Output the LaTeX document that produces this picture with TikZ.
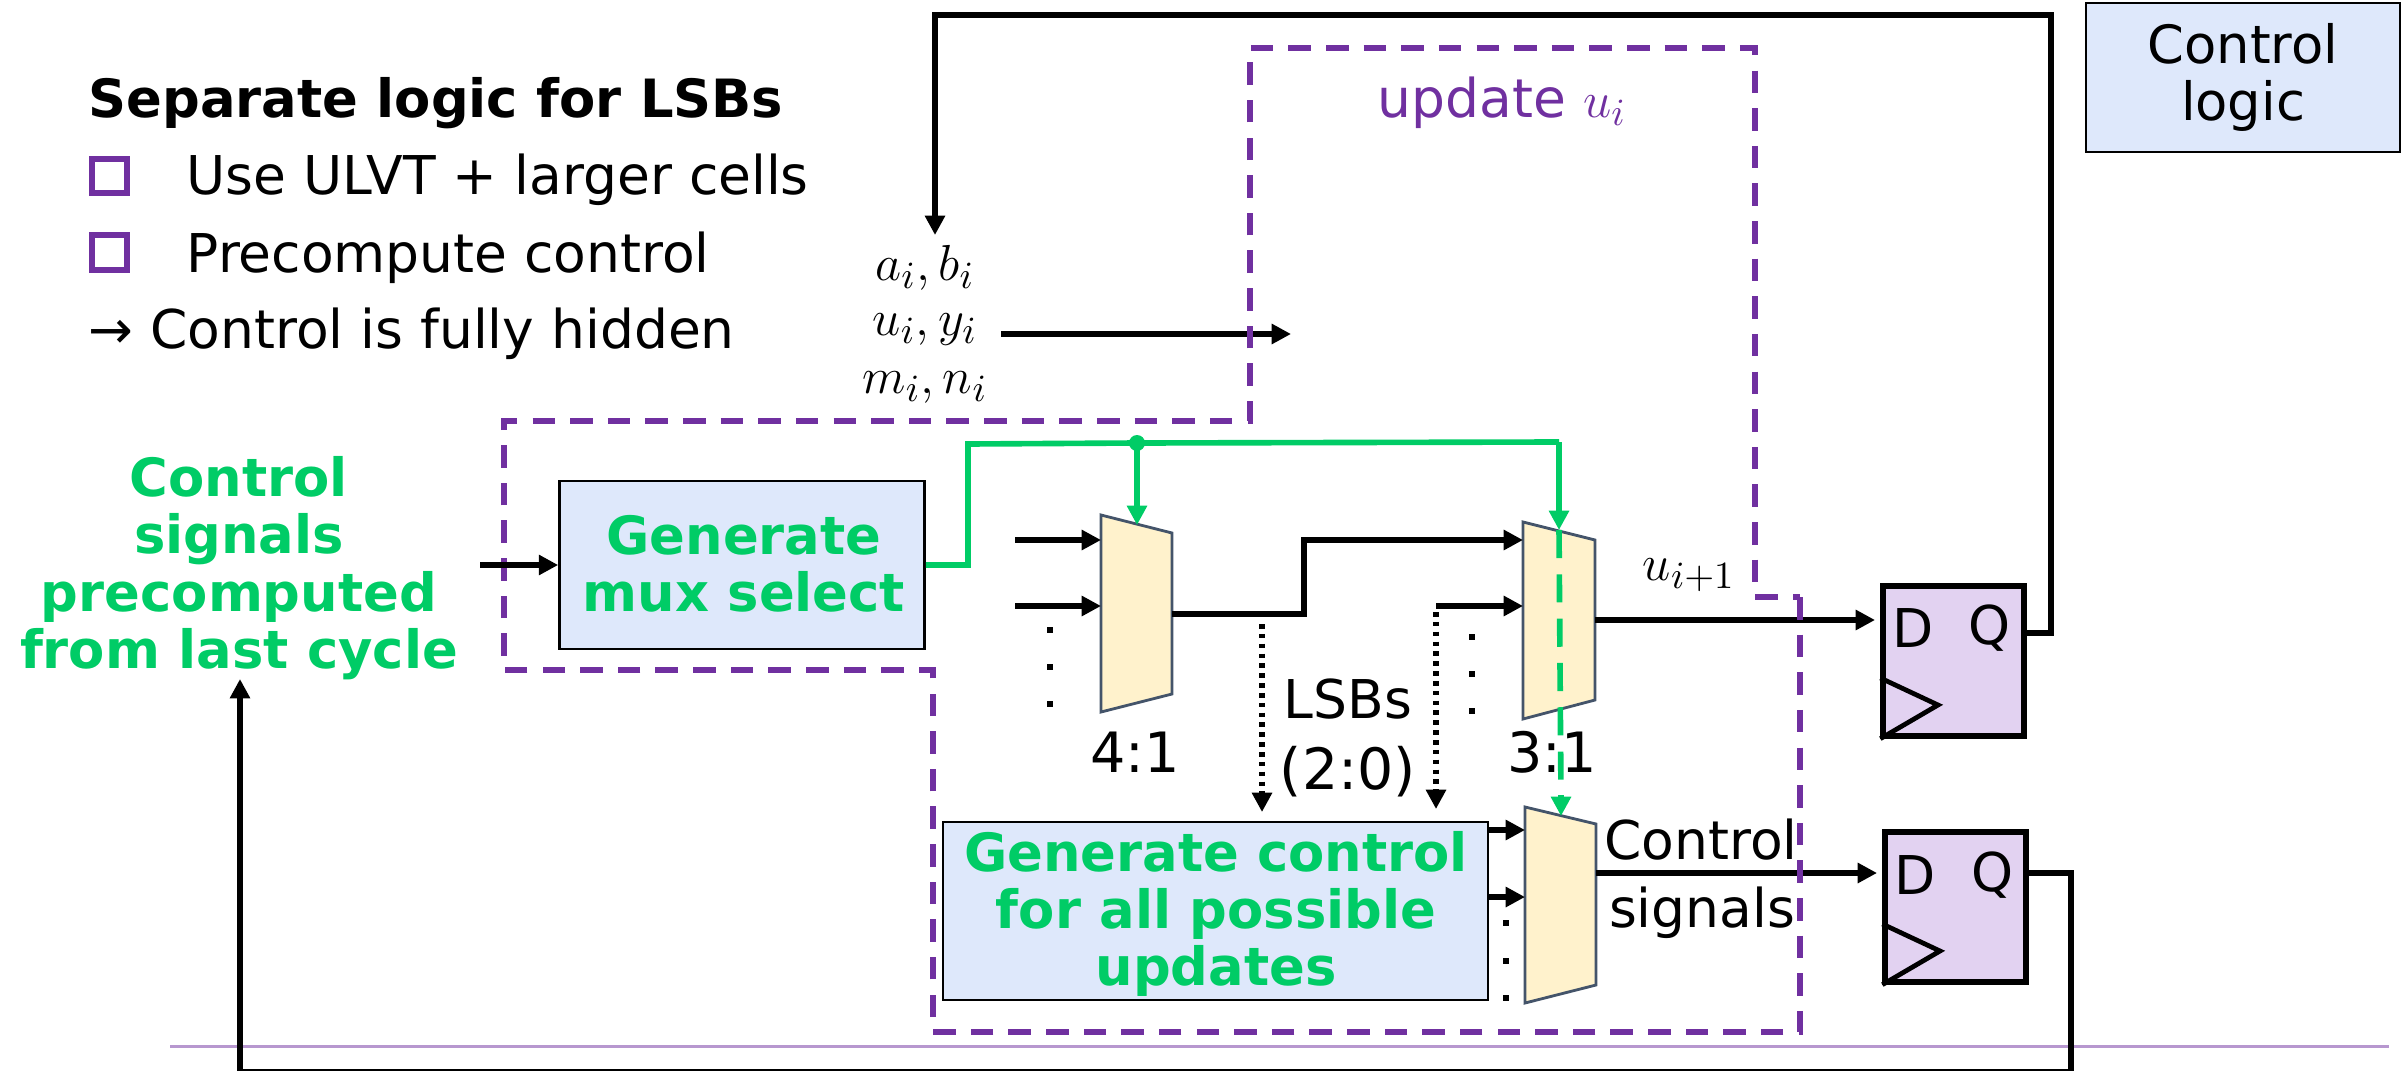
\documentclass[tikz,border=0pt]{standalone}
\usepackage{fontspec}
\setmainfont{DejaVu Sans}
\usetikzlibrary{arrows.meta}
\definecolor{ctrlgreen}{HTML}{00CC66}
\definecolor{regpurple}{HTML}{7030A0}
\definecolor{boxblue}{HTML}{DEE8FB}
\definecolor{muxyellow}{HTML}{FFF2CC}
\definecolor{ffviolet}{HTML}{E2D2F1}
\definecolor{muxedge}{HTML}{44546A}
\tikzset{
    >={Triangle[length=5.5pt,width=5.5pt]},
    wire/.style={line width=1.7pt, black},
    thinwire/.style={line width=1.5pt, black},
    selwire/.style={line width=1.6pt, ctrlgreen},
    dotwire/.style={line width=1.6pt, black, dash pattern=on 1.3pt off 1.5pt},
    regbound/.style={line width=1.6pt, regpurple, dash pattern=on 6.4pt off 4.3pt},
    logicbox/.style={draw, line width=0.7pt, fill=boxblue, inner sep=0pt, align=center},
    muxshape/.style={draw=muxedge, line width=0.8pt, fill=muxyellow},
    ffbox/.style={draw, line width=1.5pt, fill=ffviolet, minimum width=1.41cm, minimum height=1.5cm, inner sep=0pt},
    bodytext/.style={font=\fontsize{15.2}{16}\selectfont, inner sep=0pt},
    mathtext/.style={font=\fontsize{15.4}{15}\selectfont, inner sep=0pt},
    greentext/.style={font=\fontsize{15}{16.3}\selectfont\bfseries, text=ctrlgreen, align=center, inner sep=0pt},
    vdots/.style={rectangle, fill=black, minimum size=1.5pt, inner sep=0pt}
}
\begin{document}
\begin{tikzpicture}[x=0.01cm, y=-0.01cm]
    \useasboundingbox (0,0) rectangle (2404,1070);

    % --- slide rule ---
    \draw[line width=0.6pt, color=regpurple!50] (170,1046.5) -- (2389,1046.5);

    % --- blocks ---
    \node[logicbox, minimum width=3.14cm, minimum height=1.49cm, font=\fontsize{15}{16.2}\selectfont] (ctrllogic) at (2243,77.5) {Control\\logic};
    \node[logicbox, minimum width=3.65cm, minimum height=1.68cm] (muxsel) at (742,565) {};
    \node[greentext] (muxseltext) at (744,564) {Generate\\mux select};
    \node[logicbox, minimum width=5.45cm, minimum height=1.78cm] (allupd) at (1215.5,911) {};
    \node[greentext] (allupdtext) at (1216,914) {Generate control\\for all possible\\updates};

    % --- muxes ---
    \draw[muxshape] (1101,515) -- (1172,533) -- (1172,694) -- (1101,712) -- cycle;
    \draw[muxshape] (1523,522) -- (1595,540) -- (1595,700) -- (1523,719) -- cycle;
    \draw[muxshape] (1525,807) -- (1596,824) -- (1596,985) -- (1525,1003) -- cycle;
    \node[bodytext, font=\fontsize{15.8}{16}\selectfont] (muxalabel) at (1135,752) {4:1};
    \node[bodytext, font=\fontsize{15.8}{16}\selectfont] (muxblabel) at (1552,752) {3:1};

    % --- flip-flops ---
    \node[ffbox] (ffa) at (1953.5,661) {};
    \node[ffbox] (ffb) at (1955.5,907) {};
    \draw[thinwire, line width=1.35pt, line join=miter] (ffa.west |- 0,678) -- (1938,705) -- (ffa.south west);
    \draw[thinwire, line width=1.35pt, line join=miter] (ffb.west |- 0,924) -- (1940,951) -- (ffb.south west);
    \node[bodytext] (ffaD) at (1913,628) {D};
    \node[bodytext] (ffaQ) at (1990,628) {Q};
    \node[bodytext] (ffbD) at (1915,875) {D};
    \node[bodytext] (ffbQ) at (1992,875) {Q};

    % --- port coordinates ---
    \coordinate (top) at (935,15);
    \coordinate (ina) at (1015,540);
    \coordinate (inb) at (1015,606);
    \coordinate (muxaA) at (1101,540);
    \coordinate (muxaB) at (1101,606);
    \coordinate (muxaO) at (1172,614);
    \coordinate (muxbA) at (1523,540);
    \coordinate (muxbB) at (1523,606);
    \coordinate (muxbO) at (1595,620);
    \coordinate (muxcO) at (1596,873);
    \coordinate (ffaIn) at (1875,620);
    \coordinate (ffbIn) at (1877,873);
    \coordinate (tapb) at (1436,606);
    \coordinate (junc) at (1137,443);
    \coordinate (muxaS) at (1137,525);
    \coordinate (muxbS) at (1559,530);
    \coordinate (muxcS) at (1561,816);

    % --- inputs ---
    \node[mathtext] (abin) at (925,268) {$a_i,b_i$};
    \node[mathtext] (uyin) at (925,330) {$u_i,y_i$};
    \node[mathtext] (mnin) at (925,388) {$m_i,n_i$};
    \coordinate (uyout) at (1001,334);
    \coordinate (uyend) at (1291,334);
    \draw[thinwire, ->] (uyout) -- (uyend);
    \draw[thinwire, ->] (ffa.east |- 0,633) -- (2051,633) -- (2051,15) -- (top) -- (935,235);

    % --- data path ---
    \draw[wire, ->] (ina) -- (muxaA);
    \draw[wire, ->] (inb) -- (muxaB);
    \draw[wire, ->] (muxaO) -- (1304,614) -- (1304,540) -- (muxbA);
    \draw[wire, ->] (tapb) -- (muxbB);
    \draw[thinwire, ->] (muxbO) -- (ffaIn);
    \draw[thinwire, ->] (muxcO) -- (ffbIn);
    \draw[wire, ->] (allupd.east |- 0,830) -- (1525,830);
    \draw[wire, ->] (allupd.east |- 0,897) -- (1525,897);

    % --- LSB taps ---
    \draw[dotwire] (1262,624) -- (1262,795);
    \draw[->, line width=1.6pt] (1262,795) -- (1262,812);
    \draw[dotwire] (tapb) ++(0,6) -- (1436,792);
    \draw[->, line width=1.6pt] (1436,792) -- (1436,809);
    \node[bodytext] (lsbs) at (1348,699) {LSBs};
    \node[bodytext, font=\fontsize{16.2}{16}\selectfont] (lsbrange) at (1348,772) {(2:0)};

    % --- mux continuation dots ---
    \foreach \yd in {630,667,704} \node[vdots] (da\yd) at (1050,\yd) {};
    \foreach \yd in {637,674,711} \node[vdots] (db\yd) at (1472,\yd) {};
    \foreach \yd in {923,961,998} \node[vdots] (dc\yd) at (1506,\yd) {};

    % --- region boundary ---
    \draw[regbound] (1800,597) -- (1800,1032) -- (933,1032) -- (933,670) -- (504,670) -- (504,421) -- (1250,421) -- (1250,48) -- (1755,48) -- (1755,597) -- cycle;
    \node[bodytext, text=regpurple] (updlabel) at (1502,103) {update $u_i$};

    % --- select signals ---
    \draw[selwire] (muxsel.east |- 0,565) -- (968,565) -- (968,444) -- (junc) -- (1559,442) -- (muxbS |- 0,442);
    \draw[selwire, ->] (muxbS |- 0,442) -- (muxbS);
    \draw[selwire, ->] (junc) -- (muxaS);
    \fill[ctrlgreen] (junc) circle (8);
    \draw[selwire, dash pattern=on 8pt off 4.6pt] (muxbS) -- (1561,800);
    \draw[selwire, ->] (1561,795) -- (muxcS);

    % --- labels ---
    \node[mathtext] (unext) at (1689,575) {$u_{i+1}$};
    \node[bodytext] (ctrlsig) at (1701,840) {Control};
    \node[bodytext] (sigs) at (1702,913) {signals};

    % --- feedback and precomputed ---
    \node[greentext] (precomp) at (239,568) {Control\\signals\\precomputed\\from last cycle};
    \coordinate (precin) at (480,565);
    \draw[thinwire, ->] (precin) -- (muxsel.west);
    \draw[thinwire, ->] (ffb.east |- muxcO) -- (2071,873) -- (2071,1071.5) -- (240,1071.5) -- (240,679);

    % --- notes ---
    \node[anchor=base west, bodytext, font=\fontsize{15}{16}\selectfont\bfseries] (title) at (88,117) {Separate logic for LSBs};
    \draw[line width=1.6pt, regpurple] (92,159) rectangle (127,193);
    \node[anchor=base west, bodytext] (noteone) at (186,195) {Use ULVT + larger cells};
    \draw[line width=1.6pt, regpurple] (92,235) rectangle (127,270);
    \node[anchor=base west, bodytext] (notetwo) at (186,272) {Precompute control};
    \node[anchor=base west, bodytext] (notethree) at (88,348) {→ Control is fully hidden};
\end{tikzpicture}
\end{document}
